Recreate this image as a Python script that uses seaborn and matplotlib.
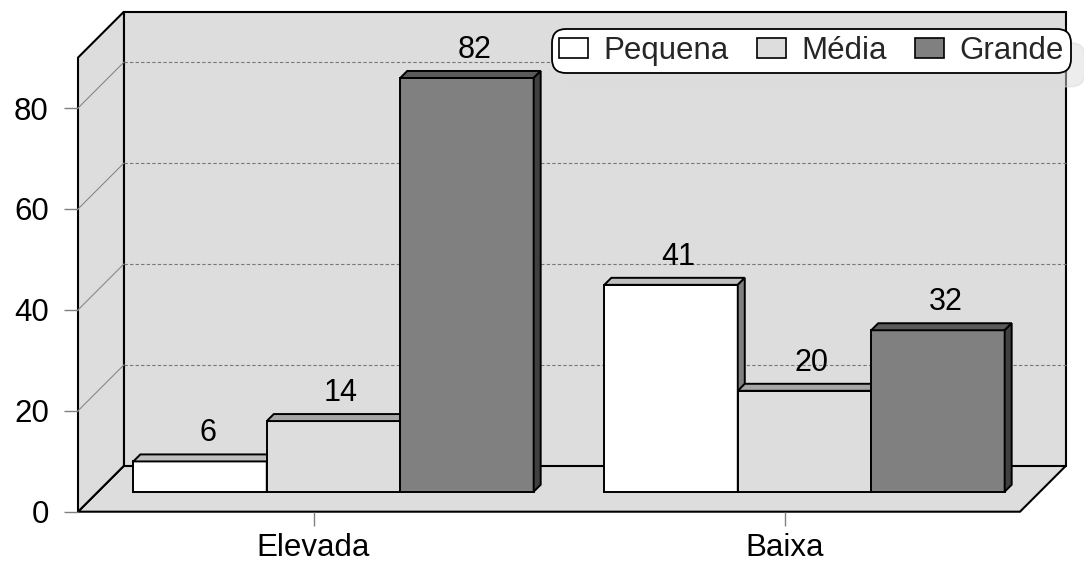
import matplotlib
matplotlib.use("Agg")
import matplotlib.pyplot as plt
import matplotlib.transforms as mtransforms
from matplotlib.patches import Polygon, Patch, Rectangle
from matplotlib.lines import Line2D
import pandas as pd
import seaborn as sns

# ---- data -------------------------------------------------------------
categories = ["Elevada", "Baixa"]
sizes = ["Pequena", "Média", "Grande"]
pequena = [6, 41]
media = [14, 20]
grande = [82, 32]
y_ticks = [0, 20, 40, 60, 80]
y_max = 90

# ---- styling ----------------------------------------------------------
front_colors = {"Pequena": "#ffffff", "Média": "#dddddd", "Grande": "#808080"}
top_colors = {"Pequena": "#bfbfbf", "Média": "#a6a6a6", "Grande": "#5a5a5a"}
side_colors = {"Pequena": "#808080", "Média": "#6e6e6e", "Grande": "#404040"}
wall_color = "#dddddd"

DPI = 100
W, H = 1084, 569
WALL_DEPTH = 46      # depth of the box, in pixels
BAR_FRONT = 20       # depth at which the bar fronts sit
BAR_BACK = 27        # depth at which the bar backs sit

df = pd.DataFrame({
    "categoria": categories * 3,
    "tamanho": [s for s in sizes for _ in categories],
    "valor": pequena + media + grande,
})
values = {"Pequena": pequena, "Média": media, "Grande": grande}

sns.set_theme(style="white")
plt.rcParams["font.family"] = ["Liberation Sans", "DejaVu Sans"]

fig = plt.figure(figsize=(W / DPI, H / DPI), dpi=DPI)
fig.patch.set_facecolor("white")
ax = fig.add_axes([78 / W, (H - 511.7) / H, 942 / W, 454.1 / H])
ax.set_facecolor("none")
for s in ax.spines.values():
    s.set_visible(False)

sns.barplot(data=df, x="categoria", y="valor", hue="tamanho",
            order=categories, hue_order=sizes, palette=front_colors,
            saturation=1, width=0.85, edgecolor="black", linewidth=1.4,
            legend=False, ax=ax)
bars = sorted([p for p in ax.patches if isinstance(p, Rectangle) and p.get_width() > 0],
              key=lambda p: p.get_x())
ax.set_xlim(-0.5, len(categories) - 0.5)
ax.set_ylim(0, y_max)
ax.set_xlabel("")
ax.set_ylabel("")


def depth_tf(d):
    """Data transform pushed back by d pixels into the depth of the box."""
    return ax.transData + mtransforms.ScaledTranslation(d / DPI, d / DPI, fig.dpi_scale_trans)


to_fig = fig.transFigure.inverted()


def pt(x, y, d):
    px, py = ax.transData.transform((x, y))
    return to_fig.transform((px + d, py + d))


def face(points, color, z, lw=1.5):
    poly = Polygon(points, closed=True, facecolor=color, edgecolor="black",
                   linewidth=lw, joinstyle="miter", transform=fig.transFigure,
                   clip_on=False, zorder=z)
    ax.add_patch(poly)


x0, x1 = ax.get_xlim()
# floor, left wall and back wall
face([pt(x0, 0, 0), pt(x1, 0, 0), pt(x1, 0, WALL_DEPTH), pt(x0, 0, WALL_DEPTH)], wall_color, 0.5)
face([pt(x0, 0, 0), pt(x0, y_max, 0), pt(x0, y_max, WALL_DEPTH), pt(x0, 0, WALL_DEPTH)], wall_color, 0.5)
face([pt(x0, 0, WALL_DEPTH), pt(x1, 0, WALL_DEPTH), pt(x1, y_max, WALL_DEPTH), pt(x0, y_max, WALL_DEPTH)], wall_color, 0.5)

# gridlines on the walls
for v in y_ticks[1:]:
    a, b = pt(x0, v, WALL_DEPTH), pt(x1, v, WALL_DEPTH)
    ax.add_line(Line2D([a[0], b[0]], [a[1], b[1]], color="#777777", lw=0.8,
                       dashes=(3, 2), transform=fig.transFigure, zorder=0.6, clip_on=False))
    c = pt(x0, v, 0)
    ax.add_line(Line2D([c[0], a[0]], [c[1], a[1]], color="#888888", lw=0.8,
                       transform=fig.transFigure, zorder=0.6, clip_on=False))

# bars: front faces from seaborn, plus top and side faces
order = [(ci, s) for ci in range(len(categories)) for s in sizes]
for k, (p, (ci, s)) in enumerate(zip(bars, order)):
    z = 2 + 0.1 * k
    p.set_transform(depth_tf(BAR_FRONT))
    p.set_clip_on(False)
    p.set_zorder(z)
    p.set_joinstyle("miter")
    bx0 = p.get_x()
    bx1 = bx0 + p.get_width()
    h = p.get_height()
    face([pt(bx0, h, BAR_FRONT), pt(bx1, h, BAR_FRONT), pt(bx1, h, BAR_BACK), pt(bx0, h, BAR_BACK)],
         top_colors[s], z, lw=1.4)
    face([pt(bx1, 0, BAR_FRONT), pt(bx1, h, BAR_FRONT), pt(bx1, h, BAR_BACK), pt(bx1, 0, BAR_BACK)],
         side_colors[s], z, lw=1.4)
    val = values[s][ci]
    ax.annotate(f"{val}", xy=(bx0 + p.get_width() / 2, val), xycoords=depth_tf(BAR_FRONT),
                xytext=(7.5, 20), textcoords="offset pixels", ha="center", va="baseline",
                fontsize=22, color="black", zorder=6, annotation_clip=False)

# ticks
ax.set_yticks(y_ticks)
ax.tick_params(axis="y", left=True, length=10, width=1, color="#808080", pad=11,
               labelsize=22.5, labelcolor="black")
ax.tick_params(axis="x", bottom=True, length=10, width=1, color="#808080", pad=5,
               labelsize=22.5, labelcolor="black")

# legend
handles = [Patch(facecolor=front_colors[s], edgecolor="black", linewidth=1.2, label=s) for s in sizes]
leg = fig.legend(handles=handles, labels=sizes, loc="upper right",
                 bbox_to_anchor=(1071 / W, 1 - 29 / H), ncol=3, fontsize=22.5,
                 frameon=True, fancybox=True,
                 shadow={"color": "#dcdcdc", "ox": 10, "oy": -10},
                 handlelength=0.93, handleheight=0.6, handletextpad=0.5,
                 columnspacing=0.9, borderpad=0.22, borderaxespad=0)
frame = leg.get_frame()
frame.set_edgecolor("black")
frame.set_linewidth(1.3)
frame.set_facecolor("white")
frame.set_alpha(1)
frame.set_boxstyle("round", pad=0, rounding_size=0.45)
leg.set_zorder(10)

fig.savefig("out.png", dpi=DPI, facecolor="white")
